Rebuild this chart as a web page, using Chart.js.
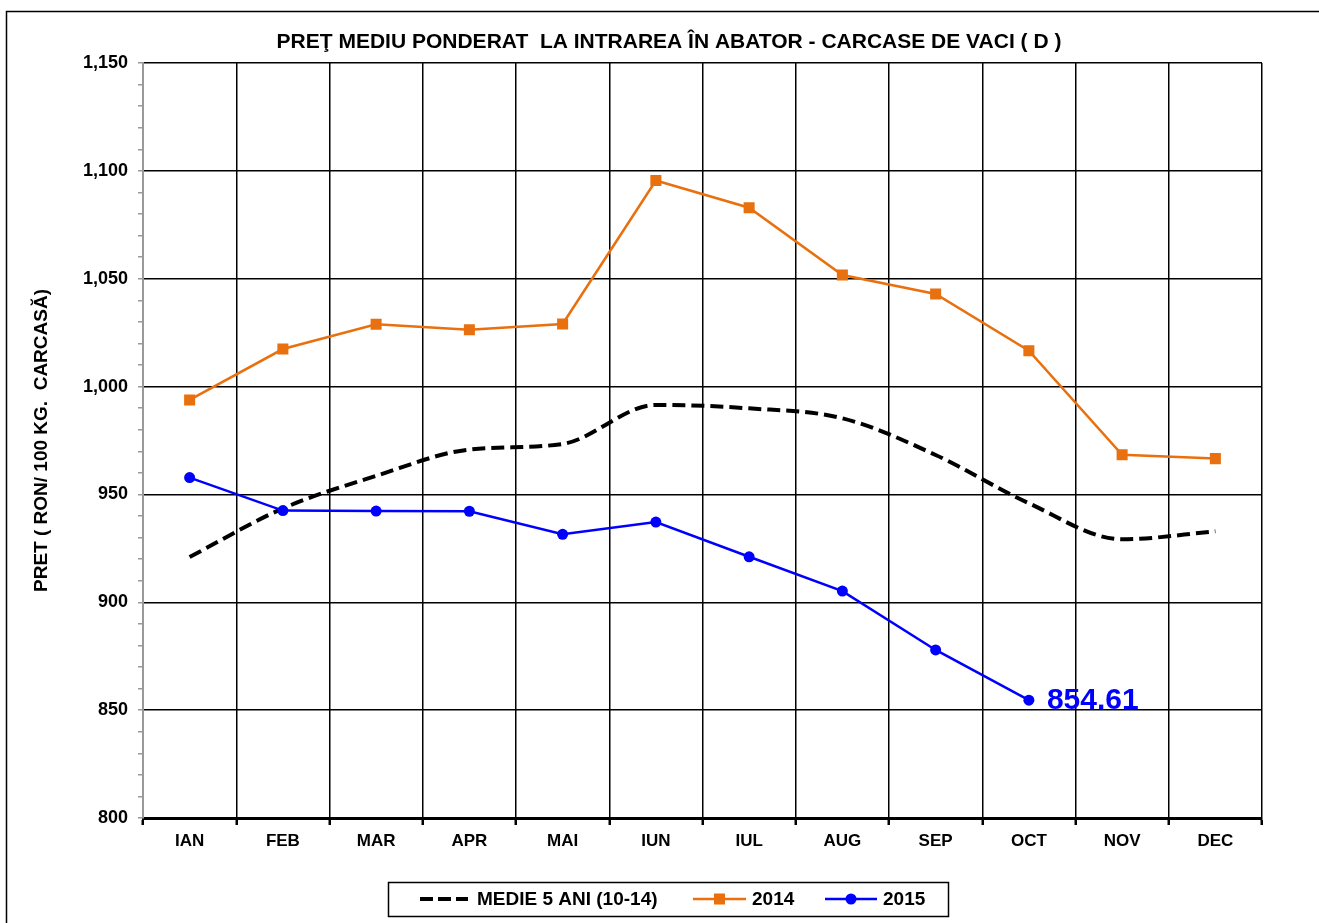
<!DOCTYPE html>
<html>
<head>
<meta charset="utf-8">
<script src="https://cdn.jsdelivr.net/npm/chart.js@4.4.1/dist/chart.umd.min.js"></script>
<style>
  html, body { margin: 0; padding: 0; background: #fff; }
  #wrap { width: 1319px; height: 923px; }
</style>
</head>
<body>
<div id="wrap"><canvas id="myChart" width="1319" height="923"></canvas></div>
<script>
const months = ['IAN', 'FEB', 'MAR', 'APR', 'MAI', 'IUN', 'IUL', 'AUG', 'SEP', 'OCT', 'NOV', 'DEC'];
const medie5ani = [921, 943.5, 958.6, 970.8, 973.4, 991.5, 989.9, 985.3, 968.3, 945.9, 929.2, 932.9];
const pret2014 = [993.8, 1017.4, 1028.9, 1026.3, 1029, 1095.5, 1082.9, 1051.7, 1042.9, 1016.6, 968.4, 966.6];
const pret2015 = [957.8, 942.5, 942.3, 942.2, 931.5, 937.2, 921.1, 905.2, 877.9, 854.61, null, null];
const yMin = 800, yMax = 1150, yMajor = 50, yMinor = 10;

const chartTitle = 'PREŢ MEDIU PONDERAT  LA INTRAREA ÎN ABATOR - CARCASE DE VACI ( D )';
const yTitle = 'PRET ( RON/ 100 KG.  CARCASĂ)';
const legendNames = ['MEDIE 5 ANI (10-14)', '2014', '2015'];

const FONT = "'Liberation Sans', Arial, sans-serif";
const orange = '#E8700E';
const blue = '#0000FF';

// frame, title, legend and the last-value label
const extras = {
  id: 'extras',
  beforeDraw(chart) {
    const c = chart.ctx;
    c.save();
    c.fillStyle = '#fff';
    c.fillRect(0, 0, chart.width, chart.height);
    c.strokeStyle = '#000';
    c.lineWidth = 1.5;
    c.strokeRect(6.5, 11.5, 1400, 1000);
    c.restore();
  },
  afterDraw(chart) {
    const c = chart.ctx;
    c.save();
    c.fillStyle = '#000';
    c.font = 'bold 21px ' + FONT;
    c.textAlign = 'center';
    c.textBaseline = 'middle';
    c.fillText(chartTitle, 669, 42);

    // legend box
    c.lineWidth = 1.5;
    c.strokeStyle = '#000';
    c.strokeRect(388.5, 882.5, 560, 34);
    const ly = 899;
    c.font = 'bold 19px ' + FONT;
    c.textAlign = 'left';
    // dashed sample
    c.beginPath();
    c.setLineDash([13, 5]);
    c.lineWidth = 4;
    c.moveTo(420, ly); c.lineTo(468, ly);
    c.stroke();
    c.setLineDash([]);
    c.fillText(legendNames[0], 477, ly + 1);
    // 2014
    c.strokeStyle = orange; c.fillStyle = orange; c.lineWidth = 2.5;
    c.beginPath(); c.moveTo(693, ly); c.lineTo(746, ly); c.stroke();
    c.fillRect(714, ly - 5.5, 11, 11);
    c.fillStyle = '#000';
    c.fillText(legendNames[1], 752, ly + 1);
    // 2015
    c.strokeStyle = blue; c.fillStyle = blue;
    c.beginPath(); c.moveTo(825, ly); c.lineTo(877, ly); c.stroke();
    c.beginPath(); c.arc(851, ly, 5.5, 0, Math.PI * 2); c.fill();
    c.fillStyle = '#000';
    c.fillText(legendNames[2], 883, ly + 1);

    // value label on last 2015 point
    const meta = chart.getDatasetMeta(2);
    let last = 0;
    pret2015.forEach((v, i) => { if (v !== null) last = i; });
    const pt = meta.data[last];
    c.fillStyle = blue;
    c.font = 'bold 30px ' + FONT;
    c.textAlign = 'left';
    c.textBaseline = 'middle';
    c.fillText(pret2015[last].toFixed(2), pt.x + 18, pt.y + 1);
    c.restore();
  }
};

const ctx = document.getElementById('myChart');

var chart = new Chart(ctx, {
  type: 'line',
  data: {
    labels: months,
    datasets: [{
      label: legendNames[0],
      data: medie5ani,
      borderColor: '#000',
      borderWidth: 4,
      borderDash: [13, 6],
      pointRadius: 0,
      cubicInterpolationMode: 'monotone',
      fill: false,
      order: 2
    }, {
      label: legendNames[1],
      data: pret2014,
      borderColor: orange,
      backgroundColor: orange,
      borderWidth: 2.5,
      pointStyle: 'rect',
      pointRadius: 7.8,
      pointBorderWidth: 0,
      pointBackgroundColor: orange,
      tension: 0,
      fill: false,
      order: 1
    }, {
      label: legendNames[2],
      data: pret2015,
      borderColor: blue,
      backgroundColor: blue,
      borderWidth: 2.5,
      pointStyle: 'circle',
      pointRadius: 5.5,
      pointBorderWidth: 0,
      pointBackgroundColor: blue,
      tension: 0,
      fill: false,
      spanGaps: false,
      order: 0
    }]
  },
  options: {
    responsive: false,
    animation: false,
    layout: { padding: { left: 0, right: 57, top: 63, bottom: 0 } },
    plugins: {
      legend: { display: false },
      title: { display: false },
      tooltip: { enabled: false }
    },
    scales: {
      x: {
        offset: true,
        border: { color: '#000', width: 3 },
        grid: { offset: true, color: '#000', lineWidth: 1.5, tickLength: 7, tickColor: '#000', tickWidth: 2.5 },
        ticks: { color: '#000', font: { family: FONT, size: 17, weight: 'bold' }, padding: 6, maxRotation: 0 },
        afterFit: s => { s.height = 105; }
      },
      y: {
        min: yMin,
        max: yMax,
        border: { color: '#999', width: 2 },
        grid: {
          color: c => (c.tick && Math.round(c.tick.value) % yMajor === 0) ? '#000' : 'rgba(0,0,0,0)',
          lineWidth: 1.5,
          tickLength: 5,
          tickColor: '#999',
          tickWidth: 1.5
        },
        ticks: {
          stepSize: yMinor,
          autoSkip: false,
          maxTicksLimit: 100,
          color: '#000',
          padding: 10,
          font: { family: FONT, size: 18, weight: 'bold' },
          callback: v => (Math.round(v) % yMajor === 0) ? Math.round(v).toLocaleString('en-US') : ''
        },
        title: {
          display: true,
          text: yTitle,
          color: '#000',
          font: { family: FONT, size: 19, weight: 'bold' },
          padding: { top: 30, bottom: 0 }
        },
        afterFit: s => { s.width = 143; }
      }
    }
  },
  plugins: [extras]
});
</script>
</body>
</html>
